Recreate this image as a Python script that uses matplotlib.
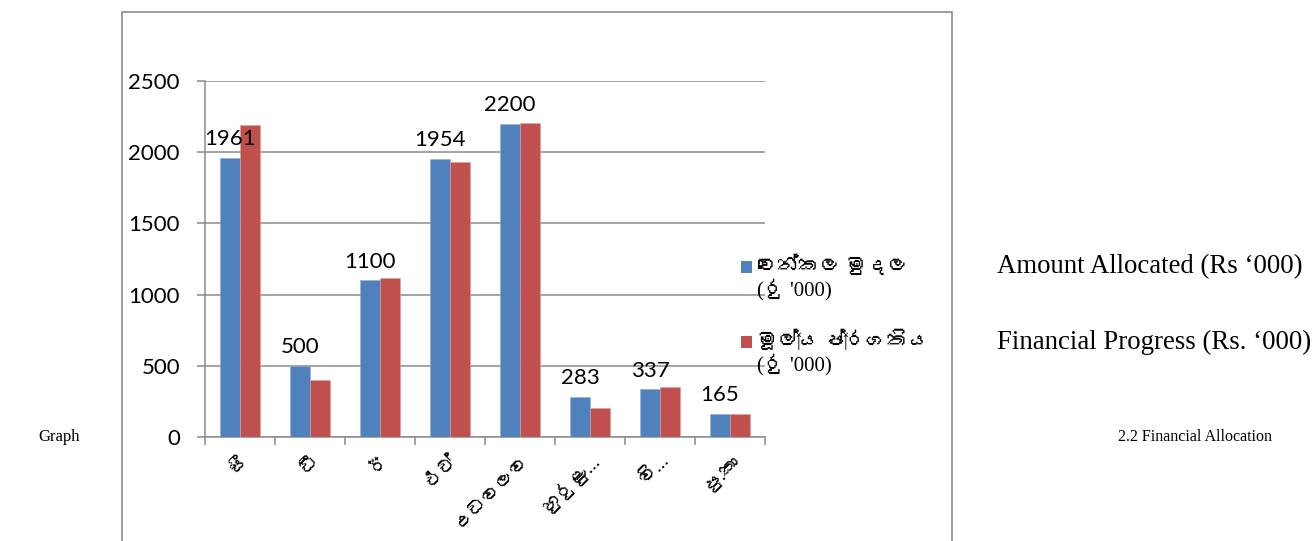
"""Graph 2.2: Financial allocation vs financial progress."""

import matplotlib
import matplotlib.pyplot as plt
import numpy as np
from matplotlib import font_manager, ft2font
from matplotlib.patches import Rectangle

matplotlib.use("Agg")

CATEGORIES = ["සී", "ඩී", "ඊ", "එච්", "උඩවලව", "හුරුළු…", "වි…", "පු.කා"]
ALLOCATED = [1961, 500, 1100, 1954, 2200, 283, 337, 165]
PROGRESS = [2190, 400, 1115, 1930, 2205, 205, 350, 165]
SERIES = ["වෙන්කල මුදල\n(රු '000)", "මූල්‍ය ප්‍රගතිය\n(රු '000)"]
SERIES_EN = ["Amount Allocated (Rs ‘000)", "Financial Progress (Rs. ‘000)"]
Y_TICKS = [0, 500, 1000, 1500, 2000, 2500]

COLORS = ["#4F81BD", "#C0504D"]
GRID = "#8c8c8c"
W, H = 1316, 541


def sinhala_font():
    # no Sinhala family is listed as installed, so look for any that covers it
    for f in font_manager.fontManager.ttflist:
        try:
            if 0x0DC0 in ft2font.FT2Font(f.fname).get_charmap():
                return f.name
        except Exception:
            continue
    return None


sin = sinhala_font()
SANS = ["Lato"] + ([sin] if sin else []) + ["DejaVu Sans"]
SERIF = ["Liberation Serif"] + ([sin] if sin else []) + ["DejaVu Serif"]
plt.rcParams["font.family"] = SANS

fig = plt.figure(figsize=(W / 100, H / 100), dpi=100)

# outer chart frame (runs off the bottom of the page crop)
fig.patches.append(Rectangle((122 / W, -0.05), (952 - 122) / W, 1.05 - 12 / H,
                             transform=fig.transFigure, fill=False,
                             edgecolor=GRID, lw=1.2))

ax = fig.add_axes([205 / W, (H - 437) / H, (765 - 205) / W, (437 - 81) / H])
x = np.arange(len(CATEGORIES))
bw = 0.286
ax.bar(x - bw / 2, ALLOCATED, bw, color=COLORS[0], edgecolor="#8fb0d8", lw=0.4, zorder=3)
ax.bar(x + bw / 2, PROGRESS, bw, color=COLORS[1], edgecolor="#e0a09e", lw=0.4, zorder=3)

for xi, v in zip(x, ALLOCATED):
    ax.annotate(str(v), (xi - bw / 2, v), xytext=(0, 6), textcoords="offset points",
                ha="center", va="bottom", fontsize=16, zorder=4)

ax.set_xlim(-0.5, len(CATEGORIES) - 0.5)
ax.set_ylim(0, 2500)
ax.set_yticks(Y_TICKS)
ax.set_xticks(np.arange(len(CATEGORIES) + 1) - 0.5, minor=False)
ax.set_xticklabels([])
ax.set_xticks(x, minor=True)
ax.set_xticklabels(CATEGORIES, minor=True, rotation=45, ha="right",
                   rotation_mode="anchor", fontsize=14)
ax.tick_params(axis="x", which="minor", length=0, pad=10)
ax.tick_params(axis="x", which="major", length=6, width=1.1, color=GRID, direction="out")
ax.tick_params(axis="y", length=6, width=1.1, color=GRID, labelsize=16, pad=12)

ax.yaxis.grid(True, color=GRID, lw=1.1, zorder=0)
for side in ["top", "right"]:
    ax.spines[side].set_visible(False)
for side in ["left", "bottom"]:
    ax.spines[side].set_color(GRID)
    ax.spines[side].set_linewidth(1.1)

# legend drawn by hand: Excel puts the key square level with the first line
for i, (label, en, c) in enumerate(zip(SERIES, SERIES_EN, COLORS)):
    y0 = 267 + i * 75
    fig.patches.append(Rectangle((741 / W, 1 - (y0 + 6) / H), 11 / W, 12 / H,
                                 transform=fig.transFigure, facecolor=c, lw=0))
    fig.text(757 / W, 1 - (y0 - 11) / H, label, family=SERIF, fontsize=15,
             va="top", linespacing=1.05)
    fig.text(997 / W, 1 - y0 / H, en, family=SERIF, fontsize=19.3, va="center")

fig.text(38 / W, 1 - 437 / H, "Graph", family=SERIF, fontsize=12, va="center")
fig.text(1118 / W, 1 - 437 / H, "2.2 Financial Allocation", family=SERIF,
         fontsize=11.5, va="center")

fig.savefig("out.png", dpi=100)
plt.close(fig)
